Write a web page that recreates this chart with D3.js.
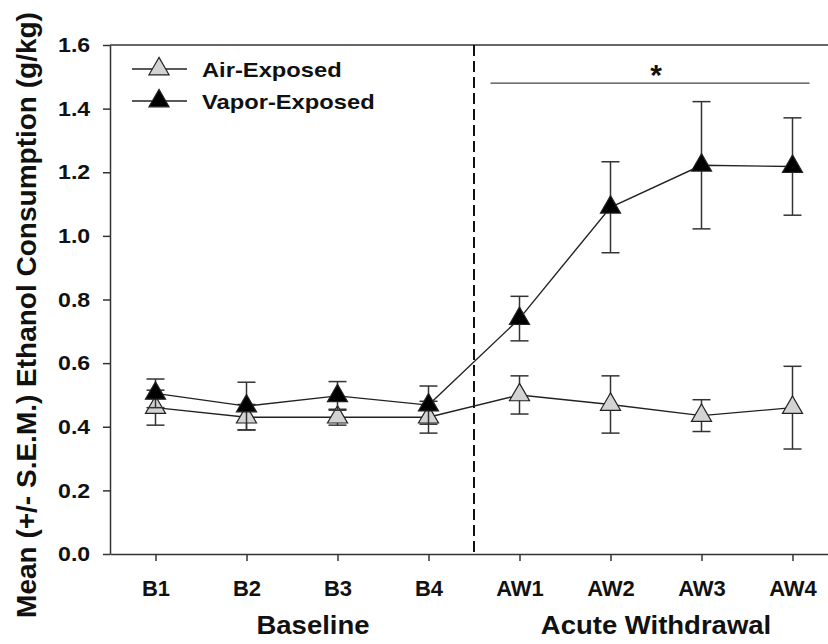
<!DOCTYPE html>
<html>
<head>
<meta charset="utf-8">
<script src="https://cdn.jsdelivr.net/npm/d3@7"></script>
<style>
body { margin: 0; background: #fff; }
text { font-family: "Liberation Sans", Arial, sans-serif; font-weight: bold; fill: #111; }
</style>
</head>
<body>
<svg width="828" height="644"></svg>
<script>
// categories (days)
var days = ["B1", "B2", "B3", "B4", "AW1", "AW2", "AW3", "AW4"];

// mean g/kg and SEM
var airMean  = [0.46, 0.43, 0.43, 0.43, 0.50, 0.47, 0.435, 0.46];
var airSem   = [0.055, 0.04, 0.025, 0.05, 0.06, 0.09, 0.05, 0.13];
var vapMean  = [0.505, 0.465, 0.497, 0.468, 0.74, 1.09, 1.222, 1.218];
var vapSem   = [0.045, 0.075, 0.045, 0.06, 0.07, 0.143, 0.2, 0.153];

var yTicks = [0, 0.2, 0.4, 0.6, 0.8, 1.0, 1.2, 1.4, 1.6];
var seriesNames = ["Air-Exposed", "Vapor-Exposed"];
var phaseNames = ["Baseline", "Acute Withdrawal"];
var sigLevel = 1.48;

var svg = d3.select("svg"),
    plotLeft = 110, plotRight = 838, plotTop = 45, plotBottom = 554;

var SX = 1.1; // text in the figure is a bit wide

var x = d3.scalePoint().domain(days).range([plotLeft, plotRight]).padding(0.5);
var y = d3.scaleLinear().domain([0, 1.6]).range([plotBottom, plotTop]);

var triangle = d3.symbol().type(d3.symbolTriangle).size(175);

// top frame line
svg.append("line")
    .attr("x1", plotLeft).attr("x2", plotRight)
    .attr("y1", y(1.6)).attr("y2", y(1.6))
    .attr("stroke", "#333").attr("stroke-width", 1.5);

// dashed divider between baseline and withdrawal
var mid = (x("B4") + x("AW1")) / 2;
svg.append("line")
    .attr("x1", mid).attr("x2", mid)
    .attr("y1", y(1.6)).attr("y2", y(0))
    .attr("stroke", "#111").attr("stroke-width", 2)
    .attr("stroke-dasharray", "11,5");

// y axis
var yAxis = svg.append("g")
    .attr("transform", "translate(" + plotLeft + ",0)")
    .call(d3.axisLeft(y).tickValues(yTicks).tickFormat(d3.format(".1f"))
        .tickSize(7).tickSizeOuter(0).tickPadding(11));
yAxis.selectAll("text")
    .style("font-size", "21px")
    .attr("transform", "scale(" + SX + ",1)");

// x axis
var xAxis = svg.append("g")
    .attr("transform", "translate(0," + plotBottom + ")")
    .call(d3.axisBottom(x).tickSize(7).tickSizeOuter(0).tickPadding(19));
xAxis.selectAll("text")
    .style("font-size", "22px");

svg.selectAll(".domain, .tick line").attr("stroke", "#333").attr("stroke-width", 1.5);

// axis titles
svg.append("text")
    .attr("transform", "translate(36,315) rotate(-90)")
    .attr("text-anchor", "middle")
    .style("font-size", "28px")
    .text("Mean (+/- S.E.M.) Ethanol Consumption (g/kg)");

var groups = [
    { name: phaseNames[0], cx: (x("B1") + x("B4")) / 2 + 21 },
    { name: phaseNames[1], cx: (x("AW1") + x("AW4")) / 2 }
];
svg.selectAll(".phase")
    .data(groups)
    .enter().append("text")
    .attr("class", "phase")
    .attr("transform", function(d) { return "translate(" + d.cx + ",634) scale(" + SX + ",1)"; })
    .attr("text-anchor", "middle")
    .style("font-size", "25px")
    .text(function(d) { return d.name; });

// significance bar
svg.append("line")
    .attr("x1", x("AW1") - 29).attr("x2", x("AW4") + 17)
    .attr("y1", y(sigLevel)).attr("y2", y(sigLevel))
    .attr("stroke", "#444").attr("stroke-width", 1.3);
svg.append("text")
    .attr("x", (x("AW2") + x("AW3")) / 2)
    .attr("y", y(sigLevel) + 2)
    .attr("text-anchor", "middle")
    .style("font-size", "30px")
    .text("*");

function drawSeries(means, sems, fill) {
    var data = days.map(function(d, i) { return { day: d, m: means[i], s: sems[i] }; });
    var g = svg.append("g");

    var err = g.selectAll(".err").data(data).enter().append("g")
        .attr("stroke", "#333").attr("stroke-width", 1.5);
    err.append("line")
        .attr("x1", function(d) { return x(d.day); })
        .attr("x2", function(d) { return x(d.day); })
        .attr("y1", function(d) { return y(d.m - d.s); })
        .attr("y2", function(d) { return y(d.m + d.s); });
    [-1, 1].forEach(function(sign) {
        err.append("line")
            .attr("x1", function(d) { return x(d.day) - 9; })
            .attr("x2", function(d) { return x(d.day) + 9; })
            .attr("y1", function(d) { return y(d.m + sign * d.s); })
            .attr("y2", function(d) { return y(d.m + sign * d.s); });
    });

    g.append("path")
        .datum(data)
        .attr("fill", "none")
        .attr("stroke", "#222")
        .attr("stroke-width", 1.4)
        .attr("d", d3.line().x(function(d) { return x(d.day); }).y(function(d) { return y(d.m); }));

    g.selectAll(".pt").data(data).enter().append("path")
        .attr("transform", function(d) { return "translate(" + x(d.day) + "," + y(d.m) + ")"; })
        .attr("d", triangle)
        .attr("fill", fill)
        .attr("stroke", "#222")
        .attr("stroke-width", 1.2);
}

drawSeries(airMean, airSem, "#d3d3d3");
drawSeries(vapMean, vapSem, "#000");

// legend
var legend = svg.append("g");
var legendRows = [
    { name: seriesNames[0], fill: "#d3d3d3", y: 69 },
    { name: seriesNames[1], fill: "#000", y: 101 }
];
legendRows.forEach(function(r) {
    legend.append("line")
        .attr("x1", 132).attr("x2", 187)
        .attr("y1", r.y).attr("y2", r.y)
        .attr("stroke", "#222").attr("stroke-width", 1.4);
    legend.append("path")
        .attr("transform", "translate(159," + r.y + ")")
        .attr("d", triangle)
        .attr("fill", r.fill)
        .attr("stroke", "#222")
        .attr("stroke-width", 1.2);
    legend.append("text")
        .attr("transform", "translate(202," + (r.y + 7.5) + ") scale(1.13,1)")
        .style("font-size", "21px")
        .text(r.name);
});
</script>
</body>
</html>
